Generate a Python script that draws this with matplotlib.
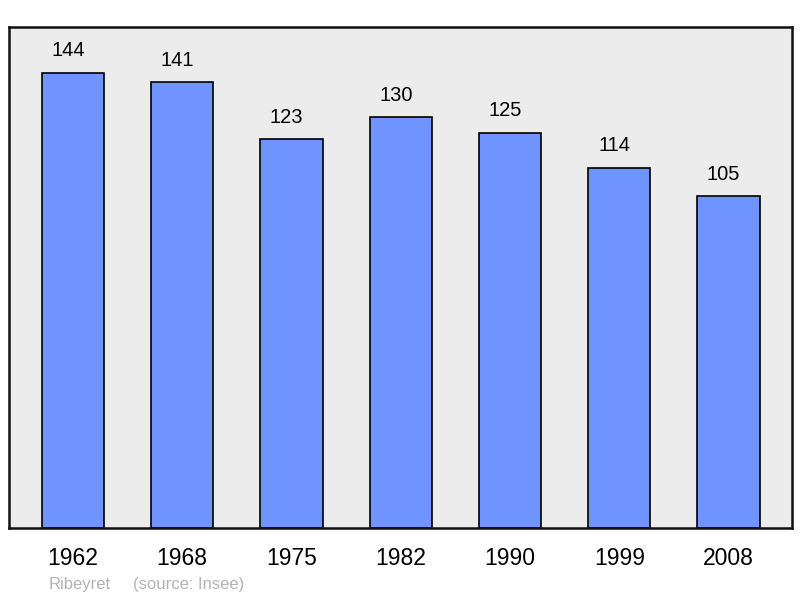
import matplotlib
matplotlib.use("Agg")
import matplotlib.pyplot as plt

years = ["1962", "1968", "1975", "1982", "1990", "1999", "2008"]
values = [144, 141, 123, 130, 125, 114, 105]

plt.rcParams['font.family'] = ['Liberation Sans', 'DejaVu Sans']

fig = plt.figure(figsize=(8, 5.98), dpi=100)
ax = fig.add_axes([9/800, 70/598, 783/800, 501/598])
ax.set_facecolor('#ececec')
x = list(range(len(years)))
bars = ax.bar(x, values, width=0.57, color='#7094ff', edgecolor='black', linewidth=1.2, zorder=2)
ax.set_xlim(-0.585, 6.58)
ax.set_ylim(0, 158.5)
for xi, v in zip(x, values):
    ax.annotate(str(v), (xi, v), xytext=(-3.6, 9), textcoords='offset points',
                ha='center', va='bottom', fontsize=14.5, color='black')
ax.set_xticks(x)
ax.set_xticklabels(years, fontsize=16.5)
ax.tick_params(axis='x', length=0, pad=14)
ax.set_yticks([])
for s in ax.spines.values():
    s.set_linewidth(1.8)
    s.set_color('#111111')
fig.text(49/800, 1 - 584/598, "Ribeyret", fontsize=12, color='#b3b3b3', va='center', ha='left')
fig.text(133/800, 1 - 584/598, "(source: Insee)", fontsize=12, color='#b3b3b3', va='center', ha='left')
fig.savefig('out.png', dpi=100)
